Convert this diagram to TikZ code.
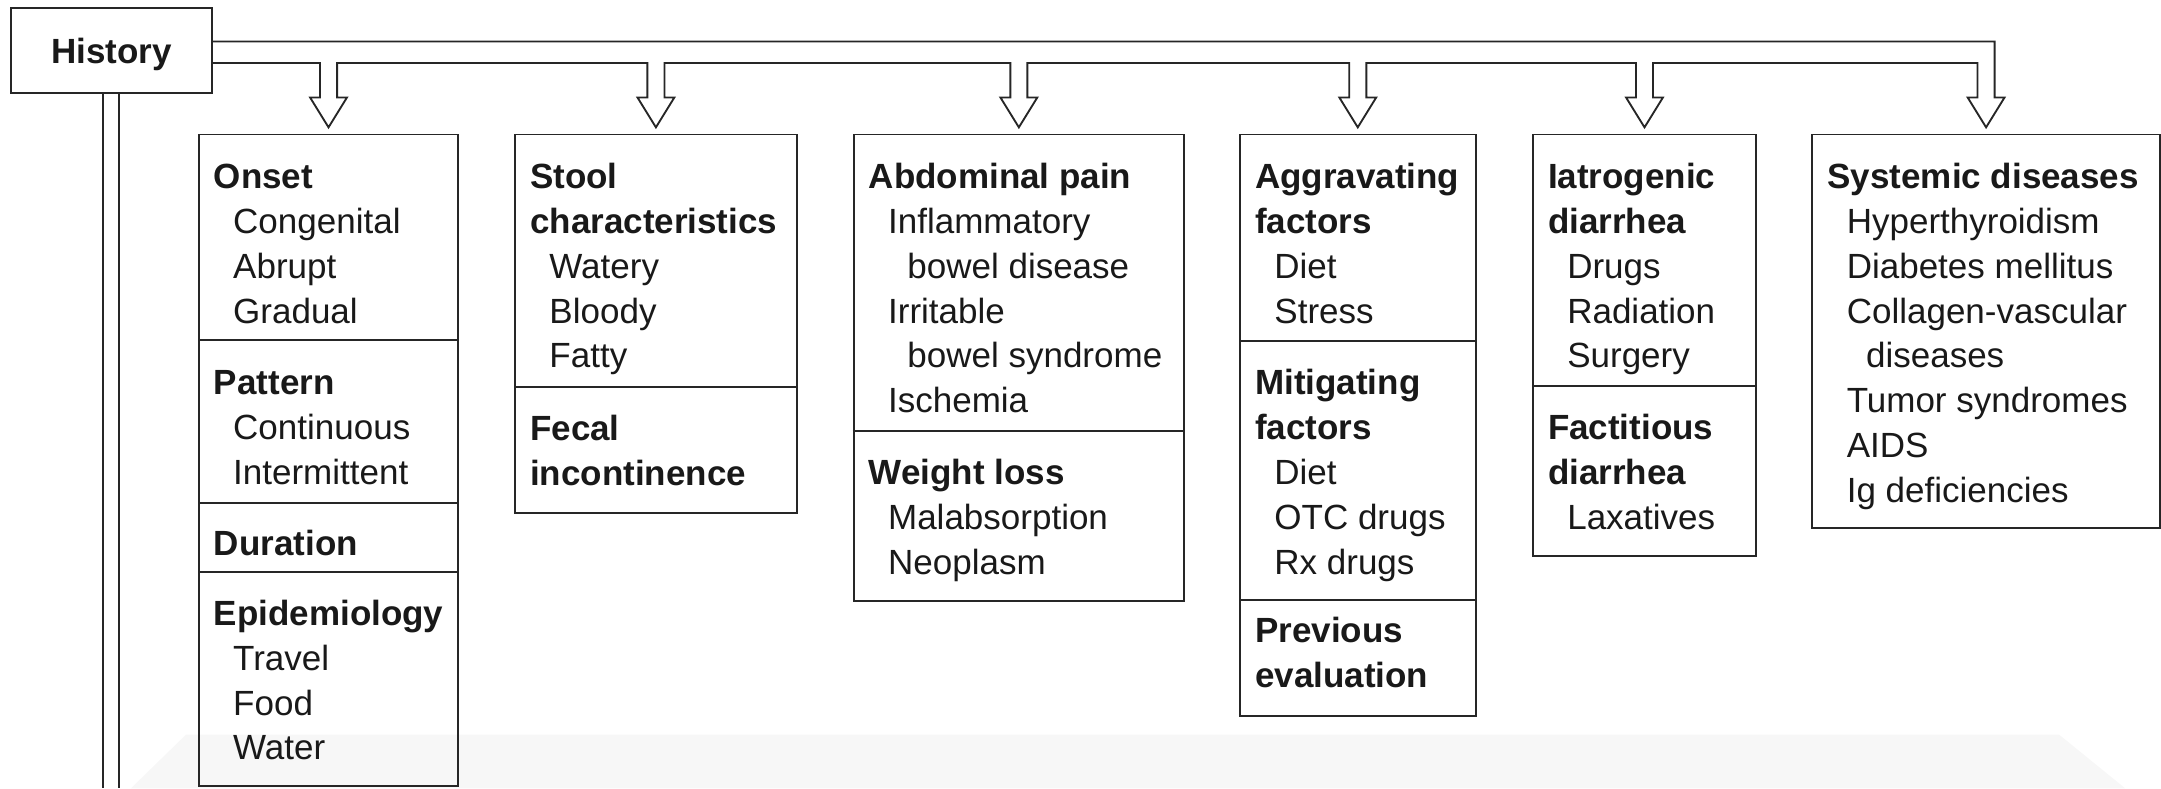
\documentclass[tikz,border=0pt]{standalone}
\usepackage{fontspec}
\setmainfont{Liberation Sans}
\usetikzlibrary{calc}

\tikzset{
  stroke/.style={draw=black!85, line width=1.35pt},
  panel/.style={stroke, rectangle, inner sep=0pt, anchor=north west},
  txt/.style={inner sep=0pt, anchor=base west, text=black!90,
              font=\fontsize{25.4}{32.6}\selectfont},
}

% one hollow arrow dropping from the rail onto a box (#1 = box, #2 = y offset of the right wall's start)
\newcommand\pipehead[2]{%
  -- ($(#1.north)+(6.2,#2)$) -- ($(#1.north)+(6.2,-26.2)$)
  -- ($(#1.north)+(13.4,-26.2)$) -- ($(#1.north)+(0,-4.5)$)
  -- ($(#1.north)+(-13.4,-26.2)$) -- ($(#1.north)+(-6.2,-26.2)$)
  -- ($(#1.north)+(-6.2,-51.2)$)}

% a block of lines inside a box: level 0 = bold heading, 1 = item, 2 = continuation
\newcommand\sect[4]{%
  \foreach \lv/\tx [count=\k] in {#4} {
    \node[txt] (#1-\k) at ({#2+11.5+14*\lv}, {#3+(\k-1)*32.6}) {\ifnum\lv=0 \bfseries\fi\tx};
  }}

\begin{document}
\begin{tikzpicture}[x=1pt, y=-1pt]
\useasboundingbox (0,0) rectangle (1568,572);

% faint shading along the lower edge
\fill[black!3] (135,533) -- (1494,533) -- (1542,572) -- (95,572) -- cycle;

% root
\node[panel, minimum width=145.6pt, minimum height=61.2pt, text depth=0pt,
      font=\fontsize{25.4}{32.6}\selectfont\bfseries, text=black!90] (hist) at (7.3,5.3) {History};

% category boxes
\node[panel, minimum width=187.4pt, minimum height=472.8pt] (onset) at (144,96.9) {};
\node[panel, minimum width=204.5pt, minimum height=274.4pt] (stool) at (373,96.9) {};
\node[panel, minimum width=239.8pt, minimum height=338.5pt] (abd)   at (618.7,96.9) {};
\node[panel, minimum width=171pt,   minimum height=422pt]   (aggr)  at (899,96.9) {};
\node[panel, minimum width=162.1pt, minimum height=305.9pt] (iatro) at (1111.5,96.9) {};
\node[panel, minimum width=252.2pt, minimum height=285.6pt] (sys)   at (1314.3,96.9) {};

% section dividers
\foreach \b/\y in {onset/247, onset/364.8, onset/415, stool/280.6, abd/312.5,
                   aggr/247.2, aggr/435.4, iatro/280}
  \draw[stroke] (\b.west |- 0,\y) -- (\b.east |- 0,\y);

% hollow rail with arrows into each box
\draw[stroke, line join=miter]
  ($(hist.north east)+(0,24.8)$)
  \pipehead{sys}{-66.8}
  \pipehead{iatro}{-51.2}
  \pipehead{aggr}{-51.2}
  \pipehead{abd}{-51.2}
  \pipehead{stool}{-51.2}
  \pipehead{onset}{-51.2}
  -- ($(hist.north east)+(0,40.4)$);

% hollow rail running down from the root
\coordinate (lpa) at (74.5,572);
\coordinate (lpb) at (86.5,572);
\draw[stroke] (hist.south -| lpa) -- (lpa);
\draw[stroke] (hist.south -| lpb) -- (lpb);

% box contents
\sect{on}{143.5}{136.6}{0/Onset,1/Congenital,1/Abrupt,1/Gradual}
\sect{pa}{143.5}{286.6}{0/Pattern,1/Continuous,1/Intermittent}
\sect{du}{143.5}{402.7}{0/Duration}
\sect{ep}{143.5}{453.6}{0/Epidemiology,1/Travel,1/Food,1/Water}

\sect{st}{373}{136.6}{0/Stool,0/characteristics,1/Watery,1/Bloody,1/Fatty}
\sect{fe}{373}{319.4}{0/Fecal,0/incontinence}

\sect{ab}{618.7}{136.6}{0/Abdominal pain,1/Inflammatory,2/bowel disease,1/Irritable,2/bowel syndrome,1/Ischemia}
\sect{wl}{618.7}{351.5}{0/Weight loss,1/Malabsorption,1/Neoplasm}

\sect{ag}{899}{136.6}{0/Aggravating,0/factors,1/Diet,1/Stress}
\sect{mi}{899}{286.2}{0/Mitigating,0/factors,1/Diet,1/OTC drugs,1/Rx drugs}
\sect{pr}{899}{466.5}{0/Previous,0/evaluation}

\sect{ia}{1111.5}{136.6}{0/Iatrogenic,0/diarrhea,1/Drugs,1/Radiation,1/Surgery}
\sect{fa}{1111.5}{319}{0/Factitious,0/diarrhea,1/Laxatives}

\sect{sy}{1314.3}{136.6}{0/Systemic diseases,1/Hyperthyroidism,1/Diabetes mellitus,1/Collagen-vascular,2/diseases,1/Tumor syndromes,1/AIDS,1/Ig deficiencies}
\end{tikzpicture}
\end{document}
